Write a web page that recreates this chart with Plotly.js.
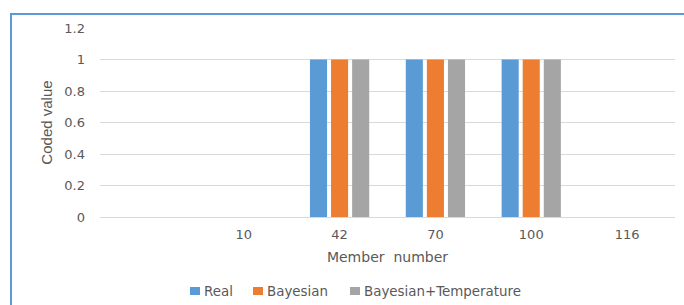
<!DOCTYPE html>
<html>
<head>
<meta charset="utf-8">
<script src="https://cdn.plot.ly/plotly-3.0.1.min.js"></script>
<style>
  html, body { margin: 0; padding: 0; background: #fff; }
  #wrap { position: relative; width: 684px; height: 305px; overflow: hidden; }
  #chart { width: 684px; height: 305px; }
  #frame { position: absolute; left: 10px; top: 13px; width: 700px; height: 320px;
           border-left: 2px solid #5B9BD5; border-top: 2px solid #5B9BD5; pointer-events: none; }
</style>
</head>
<body>
<div id="wrap">
  <div id="chart"></div>
  <div id="frame"></div>
</div>
<script>
const categories = ["10", "42", "70", "100", "116"];
const realValues = [0, 1, 1, 1, 0];
const bayesianValues = [0, 1, 1, 1, 0];
const bayesTempValues = [0, 1, 1, 1, 0];
const seriesNames = ["Real", "Bayesian", "Bayesian+Temperature"];
const seriesColors = ["#5B9BD5", "#ED7D31", "#A5A5A5"];
const yTicks = [0, 0.2, 0.4, 0.6, 0.8, 1, 1.2];

const W = 684, H = 305;
const M = { l: 100, r: 9, t: 28, b: 88 };
const PW = W - M.l - M.r, PH = H - M.t - M.b;
const px2x = px => (px - M.l) / PW;
const px2y = py => (H - M.b - py) / PH;

const gray = "#595959";
const fam = "DejaVu Sans, Verdana, sans-serif";

const data = [realValues, bayesianValues, bayesTempValues].map((vals, i) => ({
  type: "bar",
  name: seriesNames[i],
  x: categories,
  y: vals,
  marker: { color: seriesColors[i] },
  showlegend: false
}));

// custom legend (Excel-style: small square right next to the label)
const legendSquareX = [190, 253, 350];
const shapes = [], annotations = [];
seriesNames.forEach((name, i) => {
  const x0 = legendSquareX[i];
  shapes.push({ type: "rect", xref: "paper", yref: "paper",
    x0: px2x(x0), x1: px2x(x0 + 10), y0: px2y(295), y1: px2y(287),
    fillcolor: seriesColors[i], line: { width: 0 } });
  annotations.push({ xref: "paper", yref: "paper", x: px2x(x0 + 12), y: px2y(291),
    xanchor: "left", yanchor: "middle", showarrow: false, text: name,
    font: { family: fam, size: 13.4, color: gray } });
});

const layout = {
  width: W, height: H,
  margin: Object.assign({ autoexpand: false }, M),
  paper_bgcolor: "#fff", plot_bgcolor: "#fff",
  font: { family: fam, size: 13, color: gray },
  barmode: "group",
  bargap: 0.34,
  bargroupgap: 0.19,
  showlegend: false,
  shapes: shapes,
  annotations: annotations,
  xaxis: {
    type: "category",
    range: [-1.5, 4.5],
    showgrid: false, zeroline: false, showline: false,
    ticks: "", ticklabelstandoff: 8,
    tickfont: { family: fam, size: 13, color: gray },
    title: { text: "Member\u00a0\u00a0number", font: { family: fam, size: 14, color: gray }, standoff: 11 }
  },
  yaxis: {
    range: [0, 1.2],
    tickvals: yTicks,
    ticktext: yTicks.map(String),
    showgrid: true, gridcolor: "#D9D9D9", gridwidth: 1,
    zeroline: true, zerolinecolor: "#D9D9D9", zerolinewidth: 1,
    showline: false, ticks: "",
    ticklabelstandoff: 14,
    tickfont: { family: fam, size: 13, color: gray },
    title: { text: "Coded value", font: { family: "Liberation Sans Narrow, Liberation Sans, sans-serif", size: 15, color: gray }, standoff: 8 }
  }
};

Plotly.newPlot("chart", data, layout, { displayModeBar: false, staticPlot: true });
</script>
</body>
</html>
